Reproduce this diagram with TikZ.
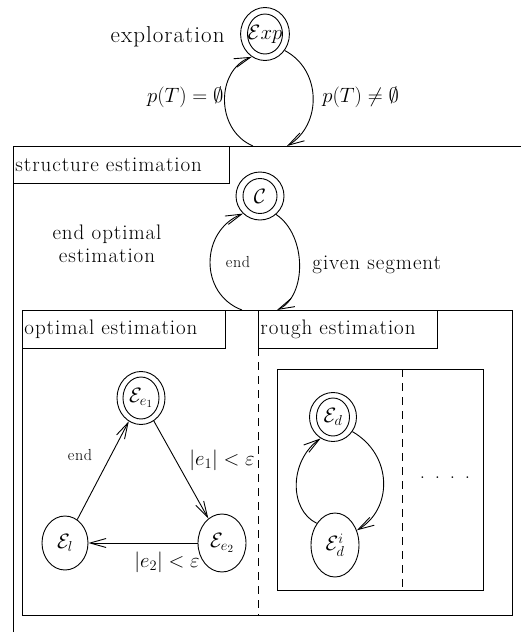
\documentclass[tikz,border=0pt]{standalone}
\usepackage{fontspec}
\setmainfont{Latin Modern Roman}[LetterSpace=4.5]
\usetikzlibrary{arrows.meta,shapes.geometric}
\begin{document}
\begin{tikzpicture}[x=1pt,y=-1pt,line width=0.9pt,
  font=\fontsize{21}{23}\selectfont,
  >={Straight Barb[length=16pt,width=9pt]},
  dstate/.style n args={4}{ellipse,draw,inner sep=0pt,minimum width=#1,minimum height=#2,
    path picture={\draw (path picture bounding box.center) ellipse [x radius=#3,y radius=#4];}},
  sstate/.style 2 args={ellipse,draw,inner sep=0pt,minimum width=#1,minimum height=#2},
  labelbox/.style={draw,anchor=north west,inner xsep=2pt,inner ysep=0pt,align=left},
  txt/.style={inner sep=0pt},
  smalltxt/.style={inner sep=0pt,font=\fontsize{16}{18}\selectfont},
  dashline/.style={dash pattern=on 8pt off 6pt}]
\useasboundingbox (0,0) rectangle (521,635);

% frames
\draw (13,632) -- (13,146) -- (521,146);
\draw (22,310) rectangle (512,615);
\draw[dashline] (258,348) -- (258,615);
\draw (277,369) rectangle (483,590);
\draw[dashline] (402,369) -- (402,590);

% label boxes
\node[labelbox,minimum width=216pt,minimum height=37pt,text width=212pt] (sbox) at (13,146) {structure estimation};
\node[labelbox,minimum width=203pt,minimum height=38pt,text width=199pt] (obox) at (22,310) {optimal estimation};
\node[labelbox,minimum width=179pt,minimum height=38pt,text width=175pt] (rbox) at (258,310) {rough estimation};

% states
\node[dstate={46pt}{53pt}{17.5pt}{20pt}] (exp) at (265,34) {$\mathcal{E}xp$};
\node[dstate={48pt}{48pt}{17pt}{17.5pt}] (c) at (260,196) {$\mathcal{C}$};
\node[dstate={47pt}{49pt}{16.5pt}{19pt}] (ed) at (333,417) {$\mathcal{E}_d$};
\node[sstate={48pt}{64pt}] (edi) at (335,545) {$\mathcal{E}_d^i$};
\node[dstate={48pt}{53pt}{18pt}{21pt}] (ee1) at (141,398) {$\mathcal{E}_{e_1}$};
\node[sstate={46pt}{54pt}] (el) at (65,543) {$\mathcal{E}_l$};
\node[sstate={48pt}{58pt}] (ee2) at (222,543) {$\mathcal{E}_{e_2}$};

% free ends
\coordinate (x1) at (253,146);
\coordinate (x2) at (287,146);
\coordinate (y1) at (242,310);
\coordinate (y2) at (277,310);

% loops
\draw[->] (x1) .. controls (215,130) and (216,70) .. (exp.240);
\draw[->] (exp.-40) .. controls (322,70) and (322,125) .. (x2);
\draw[->] (y1) .. controls (199,294) and (200,231) .. (c.226);
\draw[->] (c.-49) .. controls (307,235) and (307,296) .. (y2);
\draw[->] (edi.130) .. controls (289,510) and (289,461) .. (ed.240);
\draw[->] (ed.-37) .. controls (393,455) and (393,509) .. (edi.34);

% triangle
\draw[->] (el) -- (ee1);
\draw[->] (ee1) -- (ee2);
\draw[->] (ee2) -- (el);

% labels
\node[txt,anchor=east,font=\fontsize{23}{26}\selectfont] (explbl) at (225,37) {exploration};
\node[txt,anchor=east] (pe) at (224,97) {$p(T)=\emptyset$};
\node[txt,anchor=west] (pne) at (322,97) {$p(T)\neq\emptyset$};
\node[txt,align=center] (eoe) at (107,244) {end optimal\\estimation};
\node[smalltxt] (endc) at (238,262) {end};
\node[txt,anchor=west] (gs) at (312,265) {given segment};
\node[smalltxt] (ende) at (80,455) {end};
\node[txt] (e1lbl) at (222,460) {$|e_1|<\varepsilon$};
\node[txt] (e2lbl) at (167,562) {$|e_2|<\varepsilon$};
\node[txt] (dots) at (445,478) {. . . .};
\end{tikzpicture}
\end{document}
